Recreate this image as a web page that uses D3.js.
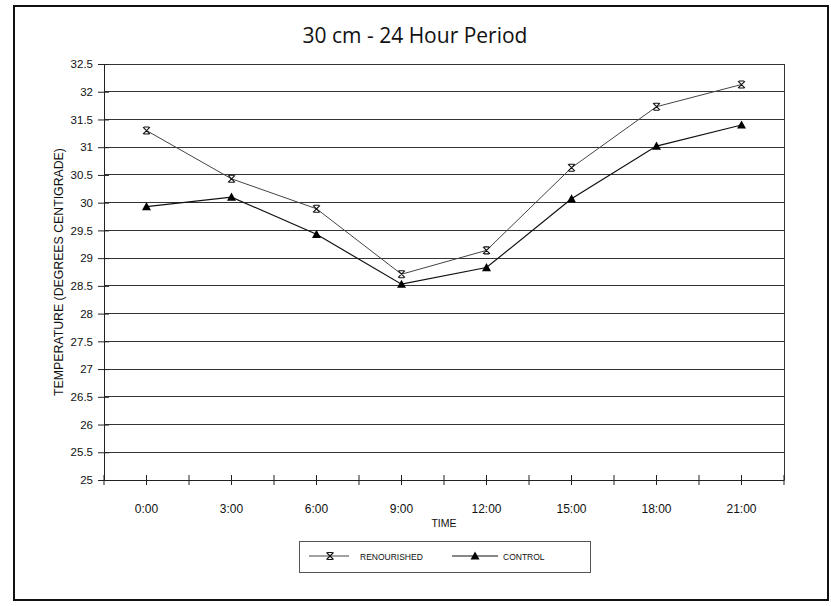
<!DOCTYPE html>
<html>
<head>
<meta charset="utf-8">
<script src="https://cdn.jsdelivr.net/npm/d3@7"></script>
<style>
  html, body { margin: 0; padding: 0; background: #fff; }
  svg { display: block; }
  text { fill: #111; }
</style>
</head>
<body>
<svg id="chart" width="831" height="606"></svg>
<script>
// ---- data ----
const title = "30 cm - 24 Hour Period";
const times = ["0:00", "3:00", "6:00", "9:00", "12:00", "15:00", "18:00", "21:00"];
const renourished = [31.3, 30.43, 29.89, 28.71, 29.14, 30.63, 31.73, 32.13];
const control = [29.93, 30.1, 29.43, 28.53, 28.83, 30.07, 31.02, 31.4];
const yTicks = [25, 25.5, 26, 26.5, 27, 27.5, 28, 28.5, 29, 29.5, 30, 30.5, 31, 31.5, 32, 32.5];
const seriesNames = ["RENOURISHED", "CONTROL"];
const yTitle = "TEMPERATURE (DEGREES CENTIGRADE)";
const xTitle = "TIME";

// ---- layout ----
const W = 831, H = 606;
const plot = { left: 104, right: 784, top: 64, bottom: 480 };
const svg = d3.select("#chart");
const sans = "'Liberation Sans', Arial, sans-serif";

// outer frame
svg.append("rect")
  .attr("x", 14).attr("y", 6).attr("width", 814).attr("height", 594)
  .attr("fill", "none").attr("stroke", "#111").attr("stroke-width", 2);

// title
svg.append("text")
  .attr("x", 415).attr("y", 43)
  .attr("text-anchor", "middle")
  .style("font-family", "'Open Sans', sans-serif")
  .style("font-size", "21px")
  .text(title);

const x = d3.scaleBand().domain(times).range([plot.left, plot.right]);
const y = d3.scaleLinear().domain([25, 32.5]).range([plot.bottom, plot.top]);
const cx = d => x(d) + x.bandwidth() / 2;

// gridlines
svg.append("g").selectAll("line").data(yTicks).join("line")
  .attr("x1", plot.left).attr("x2", plot.right)
  .attr("y1", d => y(d)).attr("y2", d => y(d))
  .attr("stroke", "#333").attr("stroke-width", 1).attr("shape-rendering", "crispEdges");

// plot border (right side)
svg.append("line")
  .attr("x1", plot.right).attr("x2", plot.right)
  .attr("y1", plot.top).attr("y2", plot.bottom)
  .attr("stroke", "#333").attr("stroke-width", 1).attr("shape-rendering", "crispEdges");

// y axis
const yAxis = svg.append("g")
  .attr("transform", `translate(${plot.left},0)`)
  .call(d3.axisLeft(y).tickValues(yTicks).tickFormat(d => String(d)).tickSizeInner(5).tickSizeOuter(0).tickPadding(6));
yAxis.select(".domain").attr("stroke", "#222");
yAxis.selectAll(".tick line").attr("x1", 5).attr("x2", -6).attr("stroke", "#222");
yAxis.selectAll("text")
  .style("font-family", sans).style("font-size", "11.5px").attr("fill", "#111");

// x axis
const xAxis = svg.append("g")
  .attr("transform", `translate(0,${plot.bottom})`)
  .call(d3.axisBottom(x).tickSizeInner(5).tickSizeOuter(0).tickPadding(19));
xAxis.select(".domain").attr("stroke", "#222");
xAxis.selectAll(".tick line").attr("y1", -5).attr("y2", 5).attr("stroke", "#222");
xAxis.selectAll("text")
  .style("font-family", sans).style("font-size", "12px").attr("fill", "#111");
// boundary ticks between categories
const bounds = times.map(t => x(t)).concat([plot.right]);
xAxis.append("g").selectAll("line").data(bounds).join("line")
  .attr("x1", d => d).attr("x2", d => d)
  .attr("y1", -5).attr("y2", 5)
  .attr("stroke", "#222");

// axis titles
svg.append("text")
  .attr("transform", `translate(63,272) rotate(-90)`)
  .attr("text-anchor", "middle")
  .style("font-family", sans).style("font-size", "12.3px")
  .text(yTitle);
svg.append("text")
  .attr("x", (plot.left + plot.right) / 2).attr("y", 527)
  .attr("text-anchor", "middle")
  .style("font-family", sans).style("font-size", "10.5px")
  .text(xTitle);

// lines
const line = d3.line().x((d, i) => cx(times[i])).y(d => y(d));
svg.append("path").datum(renourished)
  .attr("d", line).attr("fill", "none").attr("stroke", "#444").attr("stroke-width", 1);
svg.append("path").datum(control)
  .attr("d", line).attr("fill", "none").attr("stroke", "#111").attr("stroke-width", 1.2);

// markers
function xMarker(g, px, py) {
  const s = 3.5;
  g.append("path")
    .attr("d", `M${px - s},${py - s}L${px + s},${py + s}M${px + s},${py - s}L${px - s},${py + s}M${px - s + 1},${py - s}L${px + s - 1},${py - s}M${px - s + 1},${py + s}L${px + s - 1},${py + s}`)
    .attr("stroke", "#111").attr("stroke-width", 1.1).attr("fill", "none");
}
function triMarker(g, px, py) {
  const s = 4.5;
  g.append("path")
    .attr("d", `M${px},${py - s}L${px + s},${py + s * 0.8}L${px - s},${py + s * 0.8}Z`)
    .attr("fill", "#000");
}
const mg = svg.append("g");
renourished.forEach((v, i) => xMarker(mg, cx(times[i]), y(v)));
control.forEach((v, i) => triMarker(mg, cx(times[i]), y(v)));

// legend
const lg = svg.append("g");
lg.append("rect")
  .attr("x", 299.5).attr("y", 541.5).attr("width", 291).attr("height", 31)
  .attr("fill", "none").attr("stroke", "#555").attr("stroke-width", 1);
const ly = 556;
lg.append("line").attr("x1", 309).attr("x2", 349).attr("y1", ly).attr("y2", ly).attr("stroke", "#444");
xMarker(lg, 330, ly);
lg.append("text").attr("x", 360).attr("y", ly + 3.5)
  .style("font-family", sans).style("font-size", "8.5px").text(seriesNames[0]);
lg.append("line").attr("x1", 452).attr("x2", 498).attr("y1", ly).attr("y2", ly).attr("stroke", "#111");
triMarker(lg, 475, ly);
lg.append("text").attr("x", 503).attr("y", ly + 3.5)
  .style("font-family", sans).style("font-size", "8.5px").text(seriesNames[1]);
</script>
</body>
</html>
